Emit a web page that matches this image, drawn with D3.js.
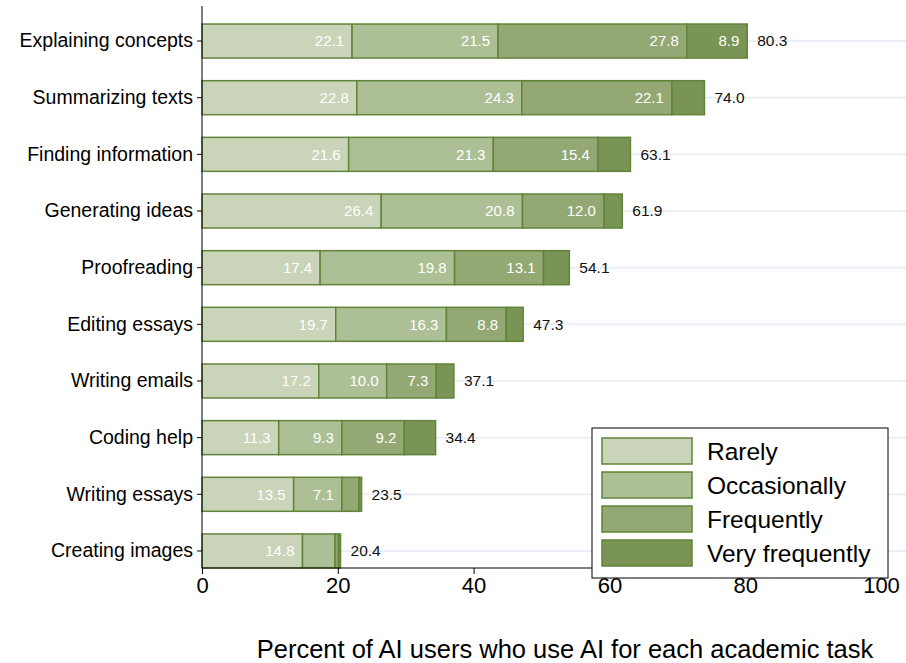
<!DOCTYPE html>
<html><head><meta charset="utf-8">
<script src="https://cdn.jsdelivr.net/npm/d3@7"></script>
<style>body{margin:0;background:#fff}text{font-family:Arial,"Liberation Sans",sans-serif}</style>
</head><body><div id="chart"></div>
<script>
const tasks = ["Explaining concepts","Summarizing texts","Finding information","Generating ideas","Proofreading","Editing essays","Writing emails","Coding help","Writing essays","Creating images"];
const rarely = [22.1,22.8,21.6,26.4,17.4,19.7,17.2,11.3,13.5,14.8];
const occasionally = [21.5,24.3,21.3,20.8,19.8,16.3,10.0,9.3,7.1,4.8];
const frequently = [27.8,22.1,15.4,12.0,13.1,8.8,7.3,9.2,2.5,0.5];
const veryFrequently = [8.9,4.8,4.8,2.7,3.8,2.5,2.6,4.6,0.4,0.3];
const totals = [80.3,74.0,63.1,61.9,54.1,47.3,37.1,34.4,23.5,20.4];
const seriesNames = ["Rarely","Occasionally","Frequently","Very frequently"];
const xTicks = [0,20,40,60,80,100];
const colors = ["#c9d4b8","#adbf94","#93a873","#7a9456"];
const strokeCol = "#62843a";

const W = 906, H = 663;
const svg = d3.select("#chart").append("svg").attr("width", W).attr("height", H);
const x = d3.scaleLinear().domain([0,100]).range([202,881]);
const y = d3.scaleBand().domain(tasks).range([12.7,579.3]).paddingInner(0.4).paddingOuter(0.2);
const rows = tasks.map((t,i)=>({task:t, vals:[rarely[i],occasionally[i],frequently[i],veryFrequently[i]], total:totals[i]}));

// gridlines
svg.selectAll(".grid").data(tasks).enter().append("line")
  .attr("x1",202).attr("x2",W).attr("y1",d=>y(d)+y.bandwidth()/2).attr("y2",d=>y(d)+y.bandwidth()/2)
  .attr("stroke","#e9eff4").attr("stroke-width",2);

rows.forEach(r=>{
  let acc=0;
  r.vals.forEach((v,k)=>{
    const x0=x(acc), x1=x(acc+v);
    svg.append("rect").attr("x",x0).attr("y",y(r.task)).attr("width",x1-x0).attr("height",y.bandwidth())
      .attr("fill",colors[k]).attr("stroke",strokeCol).attr("stroke-width",1.5);
    if(v>=7 && k<3 || (k===3 && v>=8)){
      svg.append("text").attr("x",x1-8).attr("y",y(r.task)+y.bandwidth()/2).attr("dy","0.35em")
        .attr("text-anchor","end").attr("font-size",15).attr("fill","#fff").text(v.toFixed(1));
    }
    acc+=v;
  });
  svg.append("text").attr("x",x(acc)+10).attr("y",y(r.task)+y.bandwidth()/2).attr("dy","0.35em")
    .attr("font-size",15.5).attr("fill","#111").text(r.total.toFixed(1));
});

// y axis
const yAxis = svg.append("g").attr("transform","translate(202,0)")
  .call(d3.axisLeft(y).tickSize(5).tickPadding(4).tickSizeOuter(0));
yAxis.select(".domain").attr("d","M0,6V568");
yAxis.selectAll("text").attr("font-size",19.5).attr("fill","#000");

// x axis
const xAxis = svg.append("g").attr("transform","translate(0,568)")
  .call(d3.axisBottom(x).tickValues(xTicks).tickSize(6).tickPadding(3).tickSizeOuter(0));
xAxis.select(".domain").attr("d","M202,0H881");
xAxis.selectAll("text").attr("font-size",22).attr("fill","#000");

svg.append("text").attr("x",565).attr("y",658).attr("text-anchor","middle")
  .attr("font-size",25.5).attr("fill","#000").text("Percent of AI users who use AI for each academic task");

// legend
const lg = svg.append("g").attr("transform","translate(592,428)");
lg.append("rect").attr("width",296).attr("height",150).attr("fill","#fff").attr("stroke","#000").attr("stroke-width",1);
seriesNames.forEach((n,k)=>{
  lg.append("rect").attr("x",10).attr("y",10+k*34).attr("width",90).attr("height",26)
    .attr("fill",colors[k]).attr("stroke",strokeCol).attr("stroke-width",1.5);
  lg.append("text").attr("x",115).attr("y",23+k*34).attr("dy","0.35em").attr("font-size",24.5).text(n);
});
</script></body></html>
